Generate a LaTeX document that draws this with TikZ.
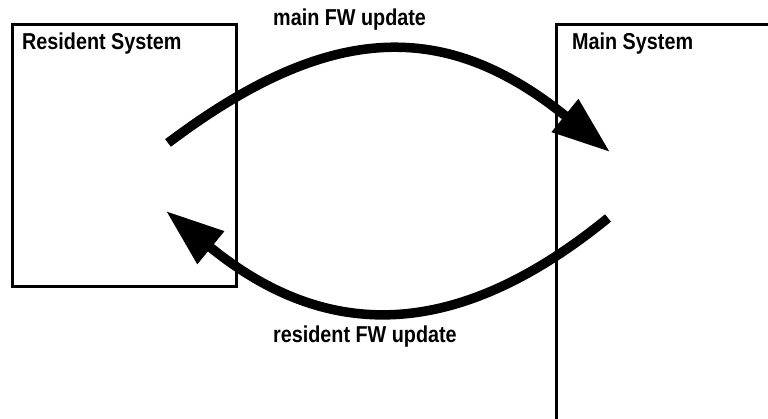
\documentclass[tikz,border=0pt]{standalone}
\usepackage{fontspec}
\setmainfont{Liberation Sans}[FakeStretch=0.86]
\usetikzlibrary{arrows.meta}
\begin{document}
\begin{tikzpicture}[x=1pt,y=-1pt,
  sysbox/.style={draw, line width=3pt, anchor=north west, inner sep=0pt},
  lbl/.style={font=\fontsize{23}{27}\selectfont\bfseries, anchor=base west, inner sep=0pt},
  flow/.style={line width=9.5pt, -{Triangle[length=58pt,width=40pt]}}]
\useasboundingbox (0,0) rectangle (768,419);
\clip (0,0) rectangle (768,419);
\fill[white] (0,0) rectangle (768,419);
\node[sysbox, minimum width=224pt, minimum height=262pt] (res) at (11,23) {};
\node[sysbox, minimum width=300pt, minimum height=500pt] (mainsys) at (555,23) {};
\node[lbl] (restitle) at (22,50) {Resident System};
\node[lbl] (maintitle) at (572,50) {Main System};
\node[lbl] (up) at (273,26) {main FW update};
\node[lbl] (down) at (273,343) {resident FW update};
\coordinate (a1) at (168,143);
\coordinate (a2) at (610,152);
\coordinate (b1) at (608,218);
\coordinate (b2) at (166,211);
\draw[flow] (a1) .. controls (331,20) and (447,20) .. (a2);
\draw[flow] (b1) .. controls (456,342) and (326,342) .. (b2);
\end{tikzpicture}
\end{document}
